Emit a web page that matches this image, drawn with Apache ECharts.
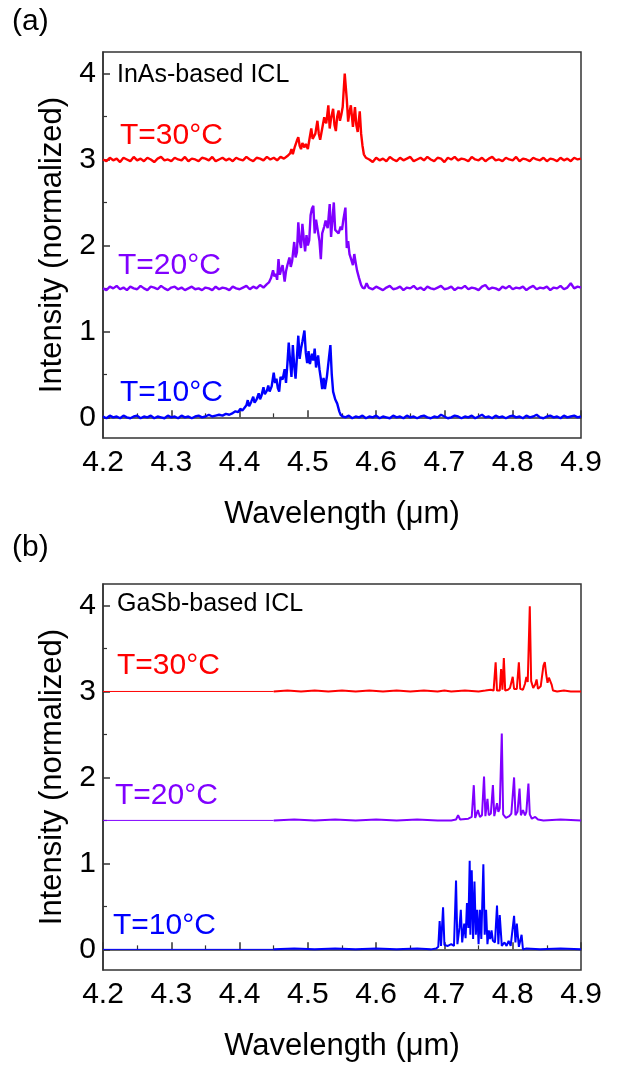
<!DOCTYPE html>
<html>
<head>
<meta charset="utf-8">
<script src="https://cdn.jsdelivr.net/npm/echarts@6/dist/echarts.min.js"></script>
<style>
  html, body { margin: 0; padding: 0; background: #fff; }
  #chart { width: 624px; height: 1066px; }
</style>
</head>
<body>
<div id="chart"></div>
<script>
// x ticks / y ticks
const xTicks = [4.2, 4.3, 4.4, 4.5, 4.6, 4.7, 4.8, 4.9];
const yTicks = [0, 1, 2, 3, 4];
const yMinorTicks = [0.5, 1.5, 2.5, 3.5];

// (a) InAs-based ICL, [wavelength um, offset intensity]
const inas30 = [
  [4.200,3.00],[4.205,2.98],[4.210,3.02],[4.215,2.99],[4.220,3.01],[4.225,2.97],[4.230,3.02],[4.235,3.00],[4.240,2.98],[4.245,3.03],
  [4.250,2.99],[4.255,3.01],[4.260,2.98],[4.265,3.02],[4.270,3.00],[4.275,2.97],[4.280,3.01],[4.285,3.03],[4.290,2.99],[4.295,3.00],
  [4.300,2.98],[4.305,3.02],[4.310,3.00],[4.315,2.99],[4.320,3.03],[4.325,2.98],[4.330,3.01],[4.335,3.00],[4.340,2.98],[4.345,3.02],
  [4.350,3.01],[4.355,2.99],[4.360,3.03],[4.365,2.98],[4.370,3.00],[4.375,3.02],[4.380,2.99],[4.385,3.01],[4.390,2.98],[4.395,3.02],
  [4.400,3.00],[4.405,2.99],[4.410,3.03],[4.415,3.00],[4.420,2.98],[4.425,3.02],[4.430,3.01],[4.435,2.99],[4.440,3.03],[4.445,3.00],
  [4.450,3.02],[4.455,2.99],[4.460,3.03],[4.465,3.01],[4.470,3.04],
  [4.474,3.07],[4.476,3.12],[4.478,3.06],[4.481,3.15],[4.484,3.22],[4.486,3.26],[4.488,3.16],[4.490,3.12],[4.492,3.19],[4.495,3.14],
  [4.497,3.18],[4.500,3.12],[4.502,3.22],[4.505,3.36],[4.507,3.24],[4.509,3.22],[4.511,3.30],[4.514,3.45],[4.516,3.30],[4.518,3.23],
  [4.521,3.36],[4.524,3.49],[4.527,3.42],[4.530,3.63],[4.532,3.36],[4.534,3.48],[4.537,3.59],[4.539,3.40],[4.541,3.33],[4.543,3.50],
  [4.545,3.57],[4.547,3.45],[4.549,3.52],[4.551,3.61],[4.554,4.00],[4.557,3.70],[4.559,3.44],[4.561,3.55],[4.563,3.63],[4.566,3.38],
  [4.569,3.61],[4.571,3.40],[4.573,3.32],[4.576,3.56],[4.578,3.30],[4.580,3.16],[4.582,3.06],[4.585,3.02],
  [4.590,3.00],[4.595,2.97],[4.600,3.02],[4.605,2.99],[4.610,3.01],[4.615,2.98],[4.620,3.03],[4.625,3.00],[4.630,2.98],[4.635,3.02],
  [4.640,2.99],[4.645,3.01],[4.650,3.03],[4.655,2.98],[4.660,3.00],[4.665,3.02],[4.670,2.99],[4.675,3.03],[4.680,3.00],[4.685,2.98],
  [4.690,3.02],[4.695,3.01],[4.700,2.97],[4.705,3.02],[4.710,3.00],[4.715,3.03],[4.720,2.99],[4.725,3.01],[4.730,3.00],[4.735,2.98],
  [4.740,3.03],[4.745,3.00],[4.750,2.99],[4.755,3.02],[4.760,2.98],[4.765,3.01],[4.770,3.03],[4.775,2.99],[4.780,3.00],[4.785,2.98],
  [4.790,3.02],[4.795,3.00],[4.800,2.99],[4.805,3.03],[4.810,2.98],[4.815,3.01],[4.820,3.00],[4.825,2.98],[4.830,3.02],[4.835,3.00],
  [4.840,2.99],[4.845,3.02],[4.850,2.98],[4.855,3.01],[4.860,3.00],[4.865,2.98],[4.870,3.02],[4.875,2.99],[4.880,3.01],[4.885,2.98],
  [4.890,3.02],[4.895,3.00],[4.900,3.01]
];
const inas20 = [
  [4.200,1.50],[4.205,1.48],[4.210,1.52],[4.215,1.50],[4.220,1.53],[4.225,1.49],[4.230,1.51],[4.235,1.48],[4.240,1.52],[4.245,1.50],
  [4.250,1.49],[4.255,1.53],[4.260,1.50],[4.265,1.48],[4.270,1.52],[4.275,1.51],[4.280,1.49],[4.285,1.53],[4.290,1.50],[4.295,1.48],
  [4.300,1.51],[4.305,1.52],[4.310,1.49],[4.315,1.51],[4.320,1.48],[4.325,1.50],[4.330,1.52],[4.335,1.49],[4.340,1.50],[4.345,1.48],
  [4.350,1.51],[4.355,1.50],[4.360,1.48],[4.365,1.52],[4.370,1.49],[4.375,1.51],[4.380,1.50],[4.385,1.48],[4.390,1.52],[4.395,1.50],
  [4.400,1.49],[4.405,1.51],[4.410,1.53],[4.415,1.49],[4.420,1.52],[4.425,1.50],[4.430,1.54],[4.435,1.51],[4.440,1.55],
  [4.443,1.57],[4.446,1.62],[4.449,1.71],[4.451,1.64],[4.453,1.67],[4.455,1.60],[4.457,1.84],[4.459,1.66],[4.461,1.72],[4.463,1.77],
  [4.466,1.58],[4.468,1.70],[4.470,1.77],[4.473,1.86],[4.475,1.75],[4.477,1.82],[4.480,2.04],[4.482,1.86],[4.484,1.92],[4.486,2.27],
  [4.488,2.05],[4.490,1.97],[4.492,2.25],[4.494,2.08],[4.496,1.93],[4.498,2.12],[4.500,2.00],[4.502,2.06],[4.504,2.35],[4.506,2.43],
  [4.508,2.46],[4.510,2.14],[4.512,2.30],[4.514,2.20],[4.517,2.05],[4.519,1.84],[4.521,2.14],[4.524,2.22],[4.526,2.29],[4.529,2.20],
  [4.532,2.48],[4.534,2.10],[4.536,2.30],[4.538,2.50],[4.540,2.18],[4.542,2.20],[4.545,2.14],[4.548,2.22],[4.550,2.18],[4.552,2.30],
  [4.555,2.44],[4.557,1.97],[4.559,2.05],[4.561,1.90],[4.563,1.85],[4.566,1.77],[4.568,1.90],[4.570,1.80],[4.572,1.71],[4.575,1.62],
  [4.578,1.54],[4.580,1.51],[4.583,1.50],[4.586,1.56],[4.589,1.51],
  [4.595,1.49],[4.600,1.52],[4.605,1.50],[4.610,1.48],[4.615,1.51],[4.620,1.53],[4.625,1.49],[4.630,1.50],[4.635,1.52],[4.640,1.48],
  [4.645,1.51],[4.650,1.50],[4.655,1.53],[4.660,1.49],[4.665,1.51],[4.670,1.48],[4.675,1.52],[4.680,1.50],[4.685,1.49],[4.690,1.51],
  [4.695,1.53],[4.700,1.49],[4.705,1.50],[4.710,1.52],[4.715,1.48],[4.720,1.51],[4.725,1.50],[4.730,1.53],[4.735,1.49],[4.740,1.51],
  [4.745,1.50],[4.750,1.48],[4.755,1.52],[4.760,1.54],[4.765,1.49],[4.770,1.51],[4.775,1.50],[4.780,1.48],[4.785,1.52],[4.790,1.50],
  [4.795,1.53],[4.800,1.49],[4.805,1.51],[4.810,1.50],[4.815,1.52],[4.820,1.48],[4.825,1.51],[4.830,1.53],[4.835,1.49],[4.840,1.51],
  [4.845,1.50],[4.850,1.52],[4.855,1.48],[4.860,1.51],[4.865,1.50],[4.870,1.53],[4.875,1.49],[4.880,1.51],[4.885,1.56],[4.890,1.50],
  [4.895,1.52],[4.900,1.51]
];
const inas10 = [
  [4.200,0.01],[4.205,-0.01],[4.210,0.02],[4.215,0.00],[4.220,0.01],[4.225,-0.01],[4.230,0.02],[4.235,0.00],[4.240,-0.01],[4.245,0.01],
  [4.250,0.02],[4.255,-0.01],[4.260,0.01],[4.265,0.00],[4.270,0.02],[4.275,-0.01],[4.280,0.01],[4.285,0.00],[4.290,-0.01],[4.295,0.02],
  [4.300,0.00],[4.305,0.01],[4.310,-0.01],[4.315,0.02],[4.320,0.00],[4.325,0.01],[4.330,-0.01],[4.335,0.01],[4.340,0.02],[4.345,0.00],
  [4.350,0.01],[4.355,0.03],[4.360,0.01],[4.365,0.02],[4.370,0.03],[4.375,0.02],[4.380,0.04],[4.385,0.03],
  [4.390,0.05],[4.394,0.07],[4.398,0.06],[4.401,0.10],[4.404,0.08],[4.407,0.11],[4.410,0.14],[4.412,0.20],[4.414,0.13],[4.417,0.18],
  [4.420,0.24],[4.422,0.17],[4.425,0.21],[4.428,0.28],[4.430,0.21],[4.432,0.25],[4.435,0.35],[4.437,0.27],[4.440,0.31],[4.442,0.37],
  [4.444,0.30],[4.447,0.36],[4.450,0.52],[4.452,0.40],[4.454,0.45],[4.456,0.34],[4.458,0.30],[4.460,0.47],[4.463,0.44],[4.466,0.56],
  [4.468,0.40],[4.470,0.62],[4.472,0.87],[4.474,0.66],[4.476,0.47],[4.478,0.84],[4.480,0.60],[4.482,0.45],[4.484,0.70],[4.486,0.95],
  [4.488,0.68],[4.490,0.80],[4.492,0.88],[4.495,1.01],[4.497,0.75],[4.499,0.63],[4.501,0.77],[4.503,0.62],[4.506,0.74],[4.508,0.66],
  [4.510,0.80],[4.512,0.58],[4.515,0.72],[4.517,0.56],[4.519,0.45],[4.521,0.33],[4.523,0.46],[4.525,0.33],[4.528,0.48],[4.531,0.70],
  [4.533,0.84],[4.535,0.50],[4.537,0.30],[4.540,0.21],[4.543,0.16],[4.546,0.07],[4.548,0.03],[4.551,0.01],
  [4.555,0.00],[4.560,0.02],[4.565,-0.01],[4.570,0.01],[4.575,0.00],[4.580,0.02],[4.585,-0.01],[4.590,0.01],[4.595,0.00],[4.600,0.02],
  [4.605,-0.01],[4.610,0.01],[4.615,0.00],[4.620,-0.01],[4.625,0.02],[4.630,0.00],[4.635,0.01],[4.640,-0.01],[4.645,0.02],[4.650,0.00],
  [4.655,0.01],[4.660,-0.01],[4.665,0.01],[4.670,0.02],[4.675,0.00],[4.680,-0.01],[4.685,0.01],[4.690,0.00],[4.695,0.03],[4.700,0.01],
  [4.705,-0.01],[4.710,0.00],[4.715,0.02],[4.720,0.01],[4.725,-0.01],[4.730,0.01],[4.735,0.00],[4.740,0.02],[4.745,-0.01],[4.750,0.01],
  [4.755,0.03],[4.760,0.00],[4.765,0.01],[4.770,-0.01],[4.775,0.02],[4.780,0.00],[4.785,0.01],[4.790,-0.01],[4.795,0.01],[4.800,0.02],
  [4.805,0.00],[4.810,0.01],[4.815,-0.01],[4.820,0.02],[4.825,0.00],[4.830,0.01],[4.835,0.03],[4.840,0.00],[4.845,-0.01],[4.850,0.01],
  [4.855,0.02],[4.860,0.00],[4.865,0.01],[4.870,-0.01],[4.875,0.02],[4.880,0.00],[4.885,0.01],[4.890,0.02],[4.895,0.00],[4.900,0.01]
];

// (b) GaSb-based ICL; the part below 4.45 um is only a flat thin line
const gasb30Lead = [[4.2, 3.0], [4.45, 3.0]];
const gasb20Lead = [[4.2, 1.5], [4.45, 1.5]];
const gasb10Lead = [[4.2, 0.0], [4.45, 0.0]];

const gasb30 = [
  [4.450,3.00],[4.470,3.01],[4.490,3.00],[4.510,3.01],[4.530,3.00],[4.550,3.01],[4.570,3.00],[4.590,3.01],[4.610,3.00],[4.630,3.01],
  [4.650,3.00],[4.670,3.01],[4.690,3.00],[4.700,3.01],[4.710,3.00],[4.730,3.01],[4.750,3.00],[4.760,3.01],[4.768,3.02],[4.772,3.01],
  [4.775,3.34],[4.777,3.01],[4.781,3.01],[4.783,3.26],[4.785,3.02],[4.787,3.39],[4.789,3.01],[4.793,3.02],[4.796,3.04],[4.798,3.06],
  [4.800,3.17],[4.802,3.03],[4.806,3.03],[4.809,3.34],[4.811,3.03],[4.815,3.02],[4.818,3.09],[4.820,3.17],[4.822,3.11],[4.825,3.99],
  [4.827,3.12],[4.830,3.04],[4.833,3.08],[4.835,3.14],[4.837,3.03],[4.841,3.06],[4.845,3.30],[4.847,3.34],[4.849,3.20],[4.851,3.10],
  [4.853,3.16],[4.855,3.18],[4.857,3.08],[4.859,3.01],[4.865,3.00],[4.875,3.01],[4.885,3.00],[4.900,3.00]
];
const gasb20 = [
  [4.450,1.50],[4.480,1.51],[4.510,1.50],[4.540,1.51],[4.570,1.50],[4.600,1.51],[4.630,1.50],[4.660,1.51],[4.690,1.50],[4.710,1.50],
  [4.717,1.51],[4.720,1.56],[4.723,1.51],[4.735,1.52],[4.740,1.54],[4.743,1.91],[4.745,1.53],[4.749,1.62],[4.752,1.54],[4.755,1.56],
  [4.758,2.01],[4.760,1.55],[4.763,1.75],[4.765,1.56],[4.768,1.58],[4.771,1.91],[4.773,1.55],[4.777,1.70],[4.779,1.60],[4.781,1.64],
  [4.784,2.51],[4.786,1.57],[4.790,1.53],[4.795,1.55],[4.798,1.58],[4.802,2.00],[4.804,1.56],[4.807,1.60],[4.810,1.87],[4.812,1.56],
  [4.815,1.62],[4.818,1.56],[4.820,1.60],[4.823,1.93],[4.825,1.57],[4.828,1.52],[4.833,1.54],[4.837,1.51],[4.845,1.50],[4.870,1.51],
  [4.900,1.50]
];
const gasb10 = [
  [4.450,0.00],[4.480,0.01],[4.510,0.00],[4.540,0.01],[4.570,0.00],[4.600,0.01],[4.630,0.00],[4.660,0.01],[4.680,0.00],[4.688,0.01],
  [4.691,0.03],[4.693,0.33],[4.695,0.04],[4.698,0.49],[4.700,0.05],[4.705,0.04],[4.710,0.06],[4.714,0.04],[4.717,0.80],[4.719,0.06],
  [4.722,0.25],[4.724,0.46],[4.726,0.08],[4.729,0.30],[4.731,0.13],[4.733,0.54],[4.735,0.25],[4.737,1.03],[4.738,0.17],[4.740,0.92],
  [4.742,0.12],[4.744,0.79],[4.746,0.17],[4.748,0.46],[4.750,0.06],[4.752,0.46],[4.754,0.12],[4.757,0.99],[4.759,0.17],[4.761,0.46],
  [4.763,0.06],[4.765,0.22],[4.767,0.12],[4.769,0.22],[4.771,0.10],[4.774,0.08],[4.777,0.51],[4.779,0.06],[4.781,0.40],[4.784,0.04],
  [4.788,0.08],[4.791,0.04],[4.794,0.10],[4.797,0.04],[4.802,0.39],[4.804,0.08],[4.806,0.30],[4.809,0.03],[4.813,0.17],[4.815,0.00],
  [4.820,0.01],[4.840,0.00],[4.870,0.01],[4.900,0.00]
];

const RED = '#ff0000', PURPLE = '#8000ff', BLUE = '#0000ff';
const FONT = '"Liberation Sans", Arial, sans-serif';
const AXIS_COLOR = '#333';

const chart = echarts.init(document.getElementById('chart'));

function xAxisFor(gi) {
  return {
    type: 'value', gridIndex: gi, min: 4.2, max: 4.9, interval: 0.1,
    name: 'Wavelength (\u03bcm)', nameLocation: 'middle', nameGap: 61,
    nameTextStyle: { fontSize: 31, color: '#000', fontFamily: FONT },
    axisLine: { show: true, lineStyle: { color: AXIS_COLOR, width: 1.5 } },
    axisTick: { show: true, inside: true, length: 7, lineStyle: { color: AXIS_COLOR, width: 1.5 } },
    minorTick: { show: true, splitNumber: 2, length: 4, lineStyle: { color: AXIS_COLOR, width: 1.2 } },
    axisLabel: { fontSize: 30, color: '#000', fontFamily: FONT, margin: 10,
      customValues: xTicks, formatter: v => v.toFixed(1) },
    splitLine: { show: false }
  };
}
function yAxisFor(gi) {
  return {
    type: 'value', gridIndex: gi, min: -0.24, max: 4.25,
    name: 'Intensity (normalized)', nameLocation: 'middle', nameGap: 34,
    nameTextStyle: { fontSize: 31, color: '#000', fontFamily: FONT },
    axisLine: { show: true, lineStyle: { color: AXIS_COLOR, width: 1.5 } },
    axisTick: { show: true, inside: true, length: 7, customValues: yTicks, lineStyle: { color: AXIS_COLOR, width: 1.5 } },
    axisLabel: { fontSize: 30, color: '#000', fontFamily: FONT, margin: 7, customValues: yTicks },
    splitLine: { show: false }
  };
}
function yMinorFor(gi) {
  return {
    type: 'value', gridIndex: gi, min: -0.24, max: 4.25, position: 'left', offset: 0,
    axisLine: { show: false },
    axisTick: { show: true, inside: true, length: 4, customValues: yMinorTicks, lineStyle: { color: AXIS_COLOR, width: 1.2 } },
    axisLabel: { show: false },
    splitLine: { show: false }
  };
}
function line(data, color, xi, yi, width) {
  return {
    type: 'line', data: data, xAxisIndex: xi, yAxisIndex: yi,
    symbol: 'none', showSymbol: false, animation: false,
    lineStyle: { color: color, width: width }, z: 3
  };
}
function label(text, x, y, color, size) {
  return {
    type: 'text', x: x, y: y, z: 10,
    style: { text: text, fill: color, font: size + 'px ' + FONT, verticalAlign: 'middle' }
  };
}

chart.setOption({
  backgroundColor: '#fff',
  animation: false,
  grid: [
    { left: 103, top: 52, width: 478, height: 386, show: true, borderColor: AXIS_COLOR, borderWidth: 1.5 },
    { left: 103, top: 584, width: 478, height: 386, show: true, borderColor: AXIS_COLOR, borderWidth: 1.5 }
  ],
  xAxis: [xAxisFor(0), xAxisFor(1)],
  yAxis: [yAxisFor(0), yAxisFor(1), yMinorFor(0), yMinorFor(1)],
  series: [
    line(inas30, RED, 0, 0, 2.4),
    line(inas20, PURPLE, 0, 0, 2.4),
    line(inas10, BLUE, 0, 0, 2.4),
    line(gasb30Lead, RED, 1, 1, 1),
    line(gasb20Lead, PURPLE, 1, 1, 1),
    line(gasb10Lead, BLUE, 1, 1, 1),
    line(gasb30, RED, 1, 1, 2),
    line(gasb20, PURPLE, 1, 1, 2),
    line(gasb10, BLUE, 1, 1, 2)
  ],
  graphic: [
    label('(a)', 12, 22, '#000', 30),
    label('(b)', 12, 548, '#000', 30),
    label('InAs-based ICL', 117, 75, '#000', 25),
    label('T=30\u00b0C', 120, 136, RED, 30),
    label('T=20\u00b0C', 118, 266, PURPLE, 30),
    label('T=10\u00b0C', 120, 393, BLUE, 30),
    label('GaSb-based ICL', 117, 604, '#000', 25),
    label('T=30\u00b0C', 117, 666, RED, 30),
    label('T=20\u00b0C', 115, 796, PURPLE, 30),
    label('T=10\u00b0C', 113, 926, BLUE, 30)
  ]
});
</script>
</body>
</html>
